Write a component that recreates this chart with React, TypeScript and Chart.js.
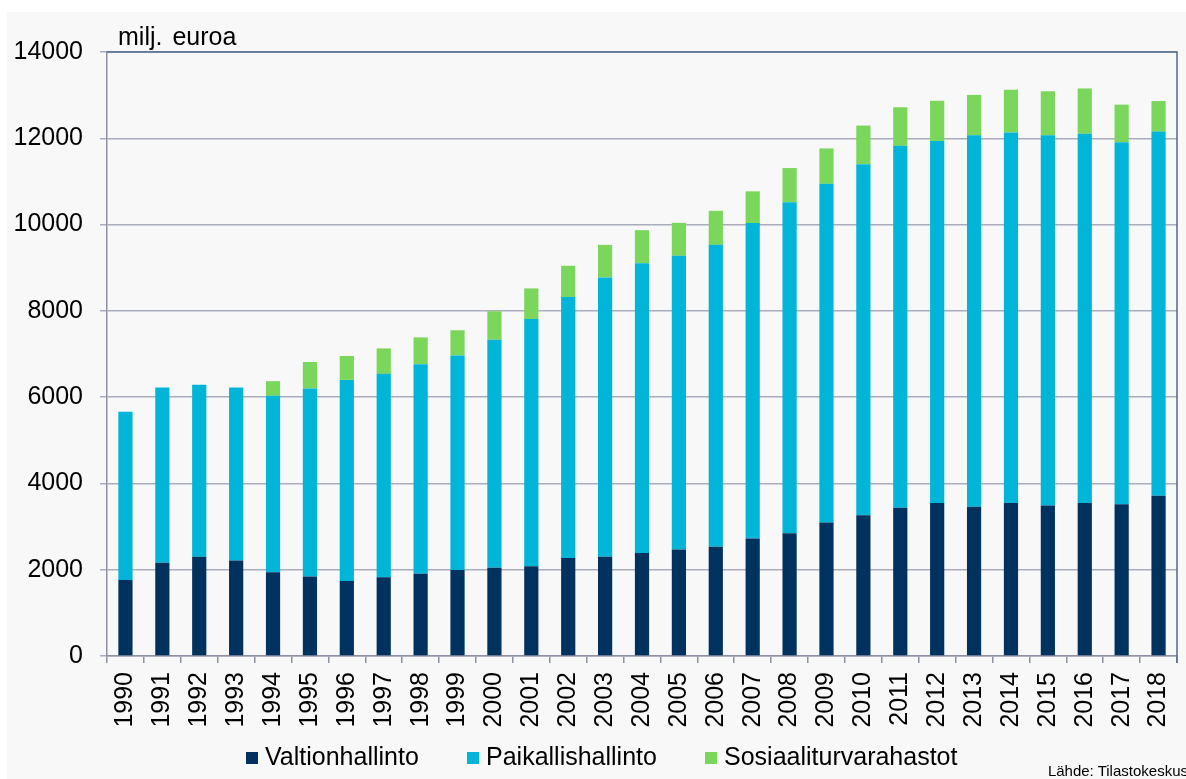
import React, { useEffect, useRef } from "react";
import { Chart, registerables } from "chart.js";

Chart.register(...registerables);

const years = [
  "1990", "1991", "1992", "1993", "1994", "1995", "1996", "1997", "1998", "1999",
  "2000", "2001", "2002", "2003", "2004", "2005", "2006", "2007", "2008", "2009",
  "2010", "2011", "2012", "2013", "2014", "2015", "2016", "2017", "2018",
];

const valtionhallinto = [
  1760, 2160, 2300, 2215, 1940, 1845, 1740, 1825, 1905, 1995,
  2045, 2080, 2270, 2300, 2385, 2470, 2535, 2725, 2845, 3095,
  3260, 3435, 3545, 3460, 3545, 3490, 3545, 3515, 3715,
];

const paikallishallinto = [
  3900, 4065, 3985, 4010, 4090, 4355, 4660, 4715, 4860, 4970,
  5285, 5730, 6050, 6475, 6720, 6805, 6995, 7310, 7675, 7850,
  8140, 8390, 8390, 8610, 8590, 8580, 8560, 8395, 8440,
];

const sosiaaliturvarahastot = [
  0, 0, 0, 0, 340, 615, 555, 590, 620, 585,
  660, 710, 725, 755, 765, 765, 790, 735, 790, 820,
  895, 895, 935, 935, 990, 1020, 1050, 870, 710,
];

const seriesNames = ["Valtionhallinto", "Paikallishallinto", "Sosiaaliturvarahastot"];
const seriesColors = ["#00325f", "#00b5d8", "#7bd65c"];

const yMin = 0;
const yMax = 14000;
const yStep = 2000;

const unitLabel = "milj. euroa";
const sourceLabel = "Lähde: Tilastokeskus";

const FONT = "'Liberation Sans', Arial, sans-serif";

const legendBoxX = [246, 467, 705];

const framePlugin = {
  id: "frameAndLegend",
  afterDraw(chart: any) {
    const { ctx, chartArea } = chart;
    const { left, right, top, bottom } = chartArea;
    ctx.save();
    // top and right frame
    ctx.strokeStyle = "#4d6a8e";
    ctx.lineWidth = 1.5;
    ctx.beginPath();
    ctx.moveTo(left, top);
    ctx.lineTo(right, top);
    ctx.lineTo(right, bottom + 7);
    ctx.stroke();

    // legend
    ctx.font = `25px ${FONT}`;
    ctx.textBaseline = "alphabetic";
    ctx.textAlign = "left";
    const box = 12;
    const boxGap = 7;
    const boxTop = 752;
    const baseline = 765;
    chart.data.datasets.forEach((ds: any, i: number) => {
      const x = legendBoxX[i];
      ctx.fillStyle = ds.backgroundColor;
      ctx.fillRect(x, boxTop, box, box);
      ctx.fillStyle = "#000";
      ctx.fillText(ds.label, x + box + boxGap, baseline);
    });
    ctx.restore();
  },
};

export default function App() {
  const canvasRef = useRef<HTMLCanvasElement | null>(null);

  useEffect(() => {
    if (!canvasRef.current) return;
    const chart = new Chart(canvasRef.current, {
      type: "bar",
      data: {
        labels: years,
        datasets: [
          { label: seriesNames[0], data: valtionhallinto, backgroundColor: seriesColors[0] },
          { label: seriesNames[1], data: paikallishallinto, backgroundColor: seriesColors[1] },
          { label: seriesNames[2], data: sosiaaliturvarahastot, backgroundColor: seriesColors[2] },
        ],
      },
      options: {
        responsive: false,
        animation: false,
        devicePixelRatio: 1,
        layout: { padding: { top: 52, right: 9, bottom: 0, left: 0 } },
        datasets: {
          bar: { barPercentage: 0.385, categoryPercentage: 1, borderWidth: 0 },
        },
        plugins: {
          legend: { display: false },
          tooltip: { enabled: false },
          title: { display: false },
        },
        scales: {
          x: {
            stacked: true,
            offset: true,
            afterFit: (scale: any) => {
              scale.height = 123;
              scale.paddingLeft = 0;
              scale.paddingRight = 0;
            },
            grid: {
              offset: true,
              drawOnChartArea: false,
              drawTicks: true,
              tickLength: 7,
              color: "#8d91a3",
              lineWidth: 1.5,
            },
            border: { display: true, color: "#8d91a3", width: 1.5 },
            ticks: {
              minRotation: 90,
              maxRotation: 90,
              autoSkip: false,
              padding: 9,
              color: "#000",
              font: { family: FONT, size: 25 },
            },
          },
          y: {
            stacked: true,
            min: yMin,
            max: yMax,
            afterFit: (scale: any) => {
              scale.width = 107;
              scale.paddingTop = 0;
              scale.paddingBottom = 0;
            },
            ticks: {
              stepSize: yStep,
              padding: 17,
              color: "#000",
              font: { family: FONT, size: 25 },
              callback: (v: any) => String(v),
            },
            grid: {
              color: "#a9acbc",
              lineWidth: 1.5,
              tickLength: 7,
              drawTicks: true,
            },
            border: { display: true, color: "#8d91a3", width: 1.5 },
          },
        },
      },
      plugins: [framePlugin],
    });
    return () => chart.destroy();
  }, []);

  return (
    <div style={{ position: "absolute", left: 0, top: 0, width: 1186, height: 779, background: "#ffffff", overflow: "hidden" }}>
      <div style={{ position: "absolute", left: 7, top: 12, width: 1179, height: 767, background: "#f8f8f8" }} />
      <canvas
        ref={canvasRef}
        width={1186}
        height={779}
        style={{ position: "absolute", left: 0, top: 0, width: 1186, height: 779 }}
      />
      <div
        style={{
          position: "absolute",
          left: 118,
          top: 24,
          fontFamily: FONT,
          fontSize: 25,
          lineHeight: "25px",
          color: "#000",
          wordSpacing: 3,
          whiteSpace: "nowrap",
        }}
      >
        {unitLabel}
      </div>
      <div
        style={{
          position: "absolute",
          right: -2,
          top: 763,
          fontFamily: FONT,
          fontSize: 15,
          lineHeight: "15px",
          color: "#000",
          whiteSpace: "nowrap",
        }}
      >
        {sourceLabel}
      </div>
    </div>
  );
}
